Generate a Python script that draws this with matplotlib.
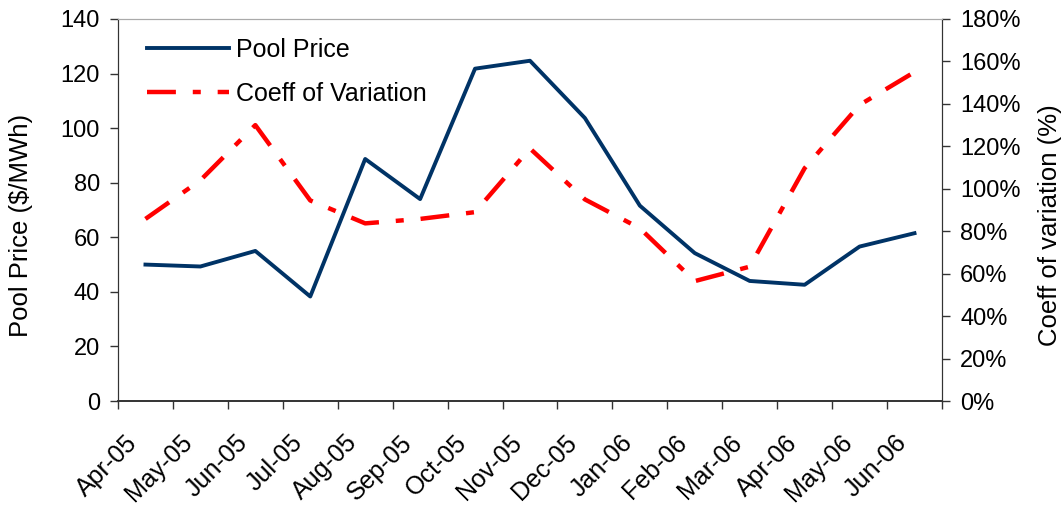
import matplotlib.pyplot as plt
import matplotlib.transforms as mtransforms
import numpy as np
from matplotlib.ticker import FuncFormatter, MultipleLocator

plt.rcParams['font.family'] = ['Liberation Sans', 'DejaVu Sans']

months = ["Apr-05", "May-05", "Jun-05", "Jul-05", "Aug-05", "Sep-05", "Oct-05",
          "Nov-05", "Dec-05", "Jan-06", "Feb-06", "Mar-06", "Apr-06", "May-06", "Jun-06"]
pool_price = [50, 49.3, 55, 38.3, 88.7, 74, 121.8, 124.7, 103.7, 71.6, 54.2, 44, 42.6, 56.6, 61.5]
coeff_var = [85.8, 104, 130, 94.5, 83.7, 85.8, 89, 119, 95, 81.4, 56.5, 63.3, 109.7, 139.5, 155]

navy = "#003366"
red = "#ff0000"

fig = plt.figure(figsize=(10.64, 5.08), dpi=100)
ax = fig.add_axes([0.1109, 0.2106, 0.7744, 0.7520])
ax2 = ax.twinx()

x = np.arange(len(months))
l1, = ax.plot(x, pool_price, color=navy, lw=2.8, label="Pool Price")
l2, = ax2.plot(x, coeff_var, color=red, lw=3.2, dashes=(6.5, 3.8, 1.8, 3.8),
               label="Coeff of Variation")

ax.set_xlim(-0.5, len(months) - 0.5)
ax.set_ylim(0, 140)
ax2.set_ylim(0, 180)
ax.yaxis.set_major_locator(MultipleLocator(20))
ax2.yaxis.set_major_locator(MultipleLocator(20))
ax2.yaxis.set_major_formatter(FuncFormatter(lambda v, p: f"{v:.0f}%"))

# category boundaries as ticks, labels at centres
ax.set_xticks(np.arange(-0.5, len(months), 1.0))
ax.set_xticklabels([])
ax.set_xticks(x, minor=True)
ax.set_xticklabels(months, minor=True, rotation=45, ha="right", rotation_mode="anchor",
                   fontsize=18)
ax.tick_params(axis="x", which="major", direction="out", length=6, width=1, color="#333333")
ax.tick_params(axis="x", which="minor", length=0, pad=14)
ax.tick_params(axis="y", direction="out", length=6, width=1, color="#333333", labelsize=17, pad=7)
ax2.tick_params(axis="y", direction="out", length=6, width=1, color="#333333", labelsize=17, pad=7)

# nudge the slanted month labels down-left (after tick_params, which resets transforms)
shift = mtransforms.ScaledTranslation(-0.20, -0.10, fig.dpi_scale_trans)
for lab in ax.get_xticklabels(minor=True):
    lab.set_transform(lab.get_transform() + shift)

for a in (ax, ax2):
    a.spines["top"].set_color("#aaaaaa")
    a.spines["left"].set_color("#333333")
    a.spines["right"].set_color("#333333")
    a.spines["bottom"].set_color("#333333")
    a.spines["bottom"].set_linewidth(1.2)

ax.set_ylabel("Pool Price ($/MWh)", fontsize=18.5)
ax2.set_ylabel("Coeff of variation (%)", fontsize=18.5)
ax.yaxis.set_label_coords(-0.103, 0.46)
ax2.yaxis.set_label_coords(1.117, 0.46)

ax.legend([l1, l2], ["Pool Price", "Coeff of Variation"], loc="upper left", frameon=False,
          fontsize=18, handlelength=3.3, handletextpad=0.25, labelspacing=0.8,
          borderpad=0, borderaxespad=0, bbox_to_anchor=(0.035, 0.951))

fig.savefig("out.png", dpi=100)
